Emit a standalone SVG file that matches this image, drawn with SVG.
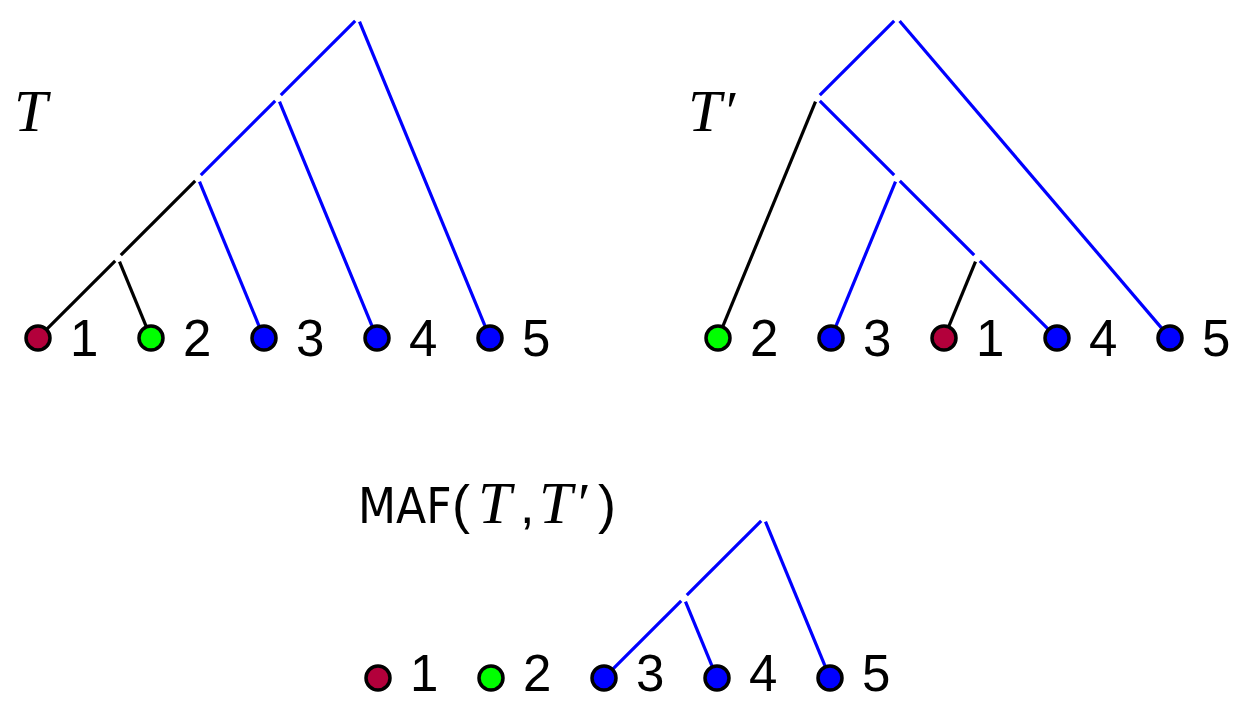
<svg xmlns="http://www.w3.org/2000/svg" width="1236" height="701" viewBox="0 0 1236 701">
<style>
.e{fill:none;stroke-width:3.2;stroke-linecap:butt}
.b{stroke:#0000ff}
.k{stroke:#000000}
.leaf{stroke:#000;stroke-width:3.5}
.red{fill:#b3003b}
.grn{fill:#00ff00}
.blu{fill:#0000ff}
.lbl{font-family:"Liberation Sans",Arial,sans-serif;font-size:51px;fill:#000}
.cond{font-family:"DejaVu Sans Condensed","DejaVu Sans",sans-serif;font-stretch:condensed;font-size:49px;fill:#000}
.it{font-family:"Liberation Serif","Times New Roman",serif;font-style:italic;font-size:60px;fill:#000}
.pr{font-family:"Liberation Serif","Times New Roman",serif;font-style:normal;font-size:58px;fill:#000}
</style>
<rect width="1236" height="701" fill="#fff"/>
<g id="labelT"><text class="it" x="14" y="131">T</text></g>
<g id="labelT2"><text class="it" x="688" y="131">T<tspan class="pr" x="726">′</tspan></text></g>
<g id="labelMAF">
<text class="lbl" x="358" y="523"><tspan class="cond">MAF</tspan><tspan x="452" font-size="54px">(</tspan><tspan class="it" x="478">T</tspan><tspan x="520" font-size="52px">,</tspan><tspan class="it" x="539">T</tspan><tspan class="pr" x="578">′</tspan><tspan x="598" font-size="54px">)</tspan></text>
</g>

<g id="connectors">
<!-- T -->
<line class="e b" x1="355.2" y1="20.8" x2="280.8" y2="95.2"/>
<line class="e b" x1="359.5" y1="21.7" x2="485.8" y2="327.8"/>
<line class="e b" x1="275.2" y1="100.8" x2="200.8" y2="175.2"/>
<line class="e b" x1="279.5" y1="101.7" x2="372.8" y2="327.8"/>
<line class="e k" x1="195.2" y1="180.8" x2="120.8" y2="255.2"/>
<line class="e b" x1="199.5" y1="181.7" x2="259.8" y2="327.8"/>
<line class="e k" x1="115.2" y1="260.8" x2="45.8" y2="330.2"/>
<line class="e k" x1="119.5" y1="261.7" x2="146.8" y2="327.8"/>
<!-- T' -->
<line class="e b" x1="894.2" y1="20.8" x2="819.8" y2="95.2"/>
<line class="e b" x1="899.6" y1="21.0" x2="1162.9" y2="329.6"/>
<line class="e k" x1="815.5" y1="101.7" x2="722.2" y2="327.8"/>
<line class="e b" x1="819.8" y1="100.8" x2="894.2" y2="175.2"/>
<line class="e b" x1="895.5" y1="181.7" x2="835.2" y2="327.8"/>
<line class="e b" x1="899.8" y1="180.8" x2="974.2" y2="255.2"/>
<line class="e k" x1="975.5" y1="261.7" x2="948.2" y2="327.8"/>
<line class="e b" x1="979.8" y1="260.8" x2="1049.2" y2="330.2"/>
<!-- MAF -->
<line class="e b" x1="761.2" y1="520.8" x2="686.8" y2="595.2"/>
<line class="e b" x1="765.5" y1="521.7" x2="825.8" y2="667.8"/>
<line class="e b" x1="681.2" y1="600.8" x2="611.8" y2="670.2"/>
<line class="e b" x1="685.5" y1="601.7" x2="712.8" y2="667.8"/>
</g>

<!-- Tree T leaves -->
<g id="T-leaf1"><circle class="leaf red" cx="38" cy="338" r="12"/><text class="lbl" x="70" y="356">1</text></g>
<g id="T-leaf2"><circle class="leaf grn" cx="151" cy="338" r="12"/><text class="lbl" x="183" y="356">2</text></g>
<g id="T-leaf3"><circle class="leaf blu" cx="264" cy="338" r="12"/><text class="lbl" x="296" y="356">3</text></g>
<g id="T-leaf4"><circle class="leaf blu" cx="377" cy="338" r="12"/><text class="lbl" x="409" y="356">4</text></g>
<g id="T-leaf5"><circle class="leaf blu" cx="490" cy="338" r="12"/><text class="lbl" x="522" y="356">5</text></g>

<!-- Tree T' leaves -->
<g id="T2-leaf2"><circle class="leaf grn" cx="718" cy="338" r="12"/><text class="lbl" x="750" y="356">2</text></g>
<g id="T2-leaf3"><circle class="leaf blu" cx="831" cy="338" r="12"/><text class="lbl" x="863" y="356">3</text></g>
<g id="T2-leaf1"><circle class="leaf red" cx="944" cy="338" r="12"/><text class="lbl" x="976" y="356">1</text></g>
<g id="T2-leaf4"><circle class="leaf blu" cx="1057" cy="338" r="12"/><text class="lbl" x="1089" y="356">4</text></g>
<g id="T2-leaf5"><circle class="leaf blu" cx="1170" cy="338" r="12"/><text class="lbl" x="1202" y="356">5</text></g>

<!-- MAF leaves -->
<g id="M-leaf1"><circle class="leaf red" cx="378" cy="678" r="12"/><text class="lbl" x="410" y="691">1</text></g>
<g id="M-leaf2"><circle class="leaf grn" cx="491" cy="678" r="12"/><text class="lbl" x="523" y="691">2</text></g>
<g id="M-leaf3"><circle class="leaf blu" cx="604" cy="678" r="12"/><text class="lbl" x="636" y="691">3</text></g>
<g id="M-leaf4"><circle class="leaf blu" cx="717" cy="678" r="12"/><text class="lbl" x="749" y="691">4</text></g>
<g id="M-leaf5"><circle class="leaf blu" cx="830" cy="678" r="12"/><text class="lbl" x="862" y="691">5</text></g>
</svg>
